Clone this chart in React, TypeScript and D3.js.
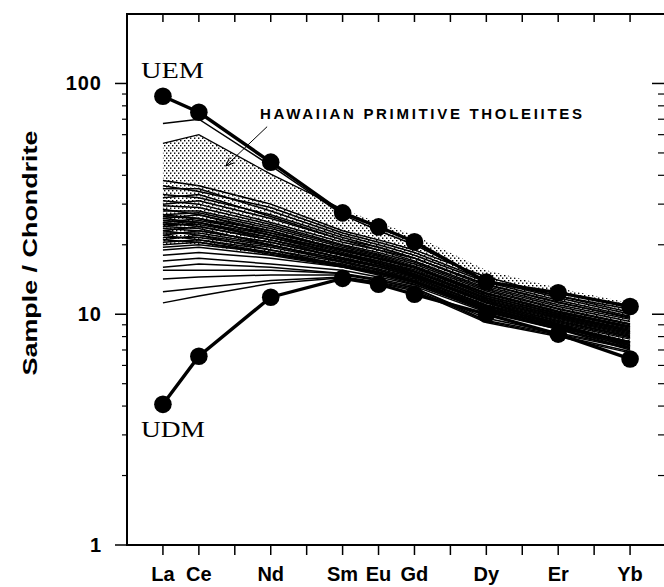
import React from 'react';
import * as d3 from 'd3';

const ELEMENTS = ['La', 'Ce', 'Pr', 'Nd', 'Pm', 'Sm', 'Eu', 'Gd', 'Tb', 'Dy', 'Ho', 'Er', 'Tm', 'Yb'];
const PLOTTED = ['La', 'Ce', 'Nd', 'Sm', 'Eu', 'Gd', 'Dy', 'Er', 'Yb'];
const Y_TICKS = [1, 10, 100];
const Y_LABELS = ['1', '10', '100'];

const UEM = [88, 75, 45.6, 27.5, 23.9, 20.6, 13.8, 12.4, 10.8];
const UDM = [4.07, 6.58, 11.85, 14.3, 13.5, 12.2, 10.0, 8.2, 6.4];

const FIELD_UPPER = [55, 60, 40.5, 28.5, 25, 22, 15.5, 13, 11.2];
const FIELD_LOWER = [20, 20, 18, 16, 15, 14, 10.5, 8.8, 7.5];

const SAMPLES: number[][] = [
  [67, 70, 44, 27, 23, 20, 14, 12, 10.5],
  [38, 36, 30, 23, 21, 19, 14.5, 12, 10.2],
  [36, 34, 29, 22.5, 20.5, 18.5, 14, 11.8, 10],
  [35, 35, 28, 22, 20, 18, 13.8, 11.5, 9.8],
  [33, 32, 27, 21.5, 19.5, 17.5, 13.5, 11.3, 9.6],
  [32, 33, 26.5, 21, 19, 17.5, 13.2, 11, 9.5],
  [31, 30, 25, 20.5, 19, 17, 13, 10.8, 9.3],
  [30, 31, 26, 21, 19.5, 17.5, 13.4, 11.2, 9.7],
  [29.5, 29, 24.5, 20, 18.5, 16.8, 12.8, 10.6, 9.1],
  [28, 28, 24, 19.8, 18.2, 16.5, 12.6, 10.5, 9],
  [27, 27.5, 23.5, 19.5, 18, 16.2, 12.4, 10.3, 8.9],
  [26.5, 26, 23, 19, 17.5, 16, 12.2, 10.2, 8.7],
  [26, 27, 22.5, 19.2, 17.8, 16, 12, 10, 8.6],
  [25.5, 25, 22, 18.5, 17, 15.6, 11.8, 9.8, 8.4],
  [25, 26, 22, 18.8, 17.3, 15.8, 12, 10.1, 8.8],
  [24.5, 24.5, 21.5, 18.2, 16.8, 15.3, 11.6, 9.7, 8.3],
  [24, 25, 21, 18, 16.5, 15, 11.5, 9.6, 8.2],
  [23.5, 23, 20.5, 17.5, 16.2, 14.8, 11.3, 9.5, 8.1],
  [23, 24, 21, 18, 16.6, 15.2, 11.7, 9.9, 8.5],
  [22.5, 22.5, 20, 17.2, 16, 14.6, 11.2, 9.4, 8],
  [22, 23, 20.5, 17.6, 16.3, 14.9, 11.4, 9.6, 8.2],
  [21.5, 21.5, 19.5, 17, 15.7, 14.4, 11, 9.2, 7.9],
  [21, 22, 19.8, 17.3, 16, 14.7, 11.2, 9.3, 8],
  [20.5, 21, 19, 16.8, 15.5, 14.2, 10.9, 9.1, 7.8],
  [20, 20.5, 18.5, 16.5, 15.3, 14, 10.8, 9, 7.6],
  [19.5, 20, 18.5, 16.3, 15.2, 13.9, 10.6, 8.9, 7.5],
  [19, 19.5, 18, 16, 15, 13.7, 10.5, 8.8, 7.4],
  [24, 23.5, 20, 16.8, 15.5, 14, 10.7, 8.9, 7.2],
  [25, 24, 21, 17.5, 16, 14.5, 10.9, 9, 7.3],
  [27, 26, 22, 18, 16.6, 15, 11.2, 9.1, 7.4],
  [22, 21, 18.5, 16, 14.8, 13.5, 10.3, 8.6, 7],
  [23, 22, 19, 16.3, 15, 13.7, 10.4, 8.7, 7.1],
  [26, 25, 21.5, 18.3, 17, 15.4, 11.8, 9.8, 8.4],
  [28.5, 27, 23, 19, 17.5, 16, 12, 10, 8.5],
  [21, 20.5, 18.2, 16.2, 15, 13.8, 10.6, 8.8, 7.6],
  [24.5, 25.5, 22.5, 19, 17.5, 16, 12.3, 10.3, 8.8],
  [18, 18.5, 17.5, 16, 15, 13.8, 10.6, 8.9, 7.6],
  [17, 17.5, 16.5, 15.5, 14.5, 13.4, 10.4, 8.7, 7.5],
  [16, 16.5, 16, 15, 14.2, 13.2, 10.2, 8.6, 7.3],
  [15.5, 15.5, 15.5, 15, 14, 13, 9.6, 8.3, 7.2],
  [14.2, 14.5, 14.8, 14.8, 14, 13, 9.4, 8.2, 7.1],
  [12.5, 13, 14, 14.5, 13.8, 12.8, 9.3, 8.1, 6.9],
  [11.2, 12, 13.6, 14.4, 13.7, 12.6, 9.2, 8, 6.8],
];

const W = 664;
const H = 587;

const x = d3.scaleLinear().domain([-1, 14]).range([127, 666]);
const y = d3.scaleLog().domain([1, 200]).range([545, 14]);
const xi = (el: string) => x(ELEMENTS.indexOf(el));

const line = d3
  .line<number>()
  .x((_, i) => xi(PLOTTED[i]))
  .y((d) => y(d));

const area = d3
  .area<number>()
  .x((_, i) => xi(PLOTTED[i]))
  .y0((_, i) => y(FIELD_LOWER[i]))
  .y1((d) => y(d));

const minorTicks: number[] = [];
[1, 10, 100].forEach((d) => {
  for (let k = 2; k <= 9; k++) {
    const v = d * k;
    if (v < 200) minorTicks.push(v);
  }
});

export default function App() {
  const left = 127;
  const right = 664;
  const top = 14;
  const bottom = 545;
  const sans = 'Liberation Sans, Arial, sans-serif';
  const serif = 'Liberation Serif, Times New Roman, serif';
  const arrowStart = [x(2.9), y(65)];
  const arrowEnd = [x(1.75), y(43.9)];
  const ang = Math.atan2(arrowEnd[1] - arrowStart[1], arrowEnd[0] - arrowStart[0]);
  const ah = 9;
  const a1 = [arrowEnd[0] - ah * Math.cos(ang - 0.4), arrowEnd[1] - ah * Math.sin(ang - 0.4)];
  const a2 = [arrowEnd[0] - ah * Math.cos(ang + 0.4), arrowEnd[1] - ah * Math.sin(ang + 0.4)];

  return (
    <svg
      width={W}
      height={H}
      style={{ position: 'absolute', left: 0, top: 0, background: '#fff' }}
      xmlns="http://www.w3.org/2000/svg"
    >
      <defs>
        <pattern id="stip" width="4" height="5" patternUnits="userSpaceOnUse">
          <rect x="0" y="0" width="1.4" height="1.4" fill="#000" />
          <rect x="2" y="2.5" width="1.4" height="1.4" fill="#000" />
        </pattern>
      </defs>
      <rect x={0} y={0} width={W} height={H} fill="#fff" />

      {/* stippled field */}
      <path d={area(FIELD_UPPER) || ''} fill="url(#stip)" stroke="none" />
      <path d={line(FIELD_UPPER.slice(0, 4)) || ''} fill="none" stroke="#000" strokeWidth={1.3} />

      {/* samples */}
      {SAMPLES.map((s, i) => (
        <path key={i} d={line(s) || ''} fill="none" stroke="#000" strokeWidth={1.5} />
      ))}

      {/* UEM / UDM */}
      {[UEM, UDM].map((s, k) => (
        <g key={k}>
          <path d={line(s) || ''} fill="none" stroke="#000" strokeWidth={3.4} />
          {s.map((v, i) => (
            <circle key={i} cx={xi(PLOTTED[i])} cy={y(v)} r={8.8} fill="#000" />
          ))}
        </g>
      ))}

      {/* annotations */}
      <text x={141} y={78} fontFamily={serif} fontSize={23} textLength={63} lengthAdjust="spacingAndGlyphs">UEM</text>
      <text x={141} y={437} fontFamily={serif} fontSize={23} textLength={64} lengthAdjust="spacingAndGlyphs">UDM</text>
      <text x={260} y={119} fontFamily={sans} fontWeight="bold" fontSize={15} textLength={322} lengthAdjust="spacing">
        HAWAIIAN PRIMITIVE  THOLEIITES
      </text>
      <line x1={arrowStart[0]} y1={arrowStart[1]} x2={arrowEnd[0]} y2={arrowEnd[1]} stroke="#000" strokeWidth={1} />
      <polyline points={`${a1[0]},${a1[1]} ${arrowEnd[0]},${arrowEnd[1]} ${a2[0]},${a2[1]}`} fill="none" stroke="#000" strokeWidth={1} />

      {/* frame */}
      <line x1={left} y1={top} x2={W} y2={top} stroke="#000" strokeWidth={2} />
      <line x1={left} y1={top - 1} x2={left} y2={bottom + 1} stroke="#000" strokeWidth={2} />
      <line x1={left} y1={bottom} x2={W} y2={bottom} stroke="#000" strokeWidth={2} />
      <line x1={right + 1} y1={top} x2={right + 1} y2={bottom} stroke="#000" strokeWidth={2} />

      {/* x ticks */}
      {ELEMENTS.map((el) => (
        <g key={el}>
          <line x1={xi(el)} x2={xi(el)} y1={top} y2={top + 8} stroke="#000" strokeWidth={1.5} />
          <line x1={xi(el)} x2={xi(el)} y1={bottom} y2={bottom + 10} stroke="#000" strokeWidth={1.5} />
        </g>
      ))}
      {PLOTTED.map((el) => (
        <text key={el} x={xi(el)} y={581} textAnchor="middle" fontFamily={sans} fontWeight="bold" fontSize={20}>
          {el}
        </text>
      ))}

      {/* y ticks */}
      {Y_TICKS.map((v, i) => (
        <g key={v}>
          <line x1={left - 12} x2={left} y1={y(v)} y2={y(v)} stroke="#000" strokeWidth={1.5} />
          <line x1={right - 12} x2={right} y1={y(v)} y2={y(v)} stroke="#000" strokeWidth={1.5} />
          <text x={102} y={y(v) + 7} textAnchor="end" fontFamily={sans} fontWeight="bold" fontSize={20} letterSpacing={1}>
            {Y_LABELS[i]}
          </text>
        </g>
      ))}
      {minorTicks.map((v) => (
        <g key={v}>
          <line x1={left - 5} x2={left} y1={y(v)} y2={y(v)} stroke="#000" strokeWidth={1.2} />
          <line x1={right - 6} x2={right} y1={y(v)} y2={y(v)} stroke="#000" strokeWidth={1.2} />
        </g>
      ))}

      <text
        transform="translate(37,253) rotate(-90)"
        textAnchor="middle"
        fontFamily={sans}
        fontWeight="bold"
        fontSize={20}
        textLength={245}
        lengthAdjust="spacingAndGlyphs"
      >
        Sample / Chondrite
      </text>
    </svg>
  );
}
